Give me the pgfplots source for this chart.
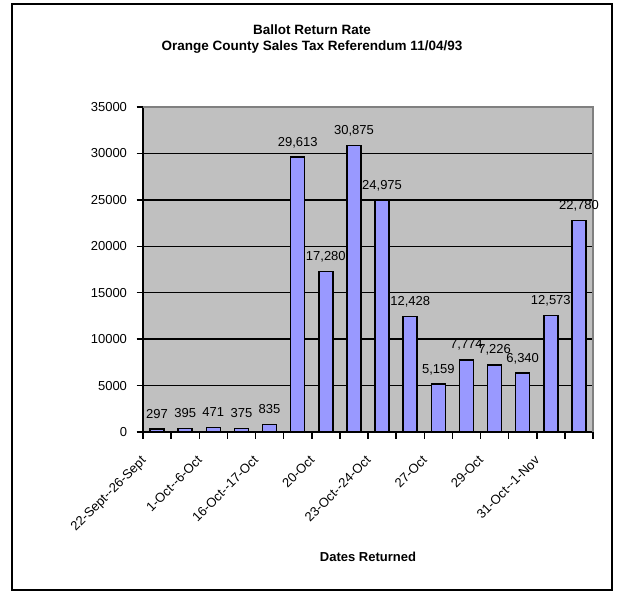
\documentclass[border=0pt]{standalone}
\usepackage{pgfplots}
\usepackage{pgfplotstable}
\pgfplotsset{compat=1.18}
\usepackage{fontspec}
\setmainfont{Liberation Sans}

\definecolor{barblue}{RGB}{153,153,255}
\definecolor{plotgray}{RGB}{192,192,192}
\definecolor{edgegray}{RGB}{128,128,128}

% ballots returned per reporting period
\pgfplotstableread{
idx value
0 297
1 395
2 471
3 375
4 835
5 29613
6 17280
7 30875
8 24975
9 12428
10 5159
11 7774
12 7226
13 6340
14 12573
15 22780
}\ballots

\newcommand{\chartfont}{\fontsize{13bp}{15bp}\selectfont}

\begin{document}
\begin{tikzpicture}
% page frame
\path (0,0) rectangle (618bp,-592bp);
\draw[line width=2.5bp] (12bp,-4bp) rectangle (612bp,-590bp);
\node[font=\bfseries\fontsize{13.5bp}{16bp}\selectfont, align=center] at (312bp,-39.5bp)
  {Ballot Return Rate\\Orange County Sales Tax Referendum 11/04/93};
\begin{axis}[
  at={(143bp,-432bp)}, anchor=south west,
  scale only axis, width=450bp, height=325bp,
  xmin=-0.5, xmax=15.5, ymin=0, ymax=35000,
  axis background/.style={fill=plotgray},
  axis x line*=bottom, axis y line*=left,
  axis line style={-, black, line width=2bp},
  tick align=outside,
  major tick length=6.5bp,
  tick style={black, line width=1.5bp},
  ytick={0,5000,...,35000},
  scaled y ticks=false,
  yticklabel={\chartfont\pgfmathprintnumber[fixed,precision=0,1000 sep={},assume math mode=true]{\tick}},
  ymajorgrids,
  grid style={black, line width=1.3bp},
  xtick={-0.5,0.5,...,15.5},
  xticklabels={},
  extra x ticks={0,2,...,14},
  extra x tick labels={22-Sept-{}-26-Sept,1-Oct-{}-6-Oct,16-Oct-{}-17-Oct,20-Oct,23-Oct-{}-24-Oct,27-Oct,29-Oct,31-Oct-{}-1-Nov},
  extra x tick style={major tick length=0pt, grid=none,
    tick label style={rotate=45, anchor=north east, inner sep=0pt, xshift=-28bp, yshift=-4bp}},
  /pgf/number format/.cd, 1000 sep={}, assume math mode=true,
  /pgfplots/.cd,
  tick label style={font=\chartfont},
  yticklabel style={font=\chartfont, xshift=-6bp},
  xlabel={\bfseries Dates Returned},
  xlabel style={font=\chartfont, at={(axis description cs:0.5,0)}, anchor=center, yshift=-125bp},
  ybar, bar width=14bp,
  point meta=y,
  nodes near coords={\pgfmathprintnumber[fixed,precision=0,1000 sep={,},assume math mode=true]{\pgfplotspointmeta}},
  every node near coord/.append style={font=\chartfont, anchor=base, inner sep=0pt, yshift=11bp, black},
  clip=false,
]
\addplot[fill=barblue, draw=black, line width=1.5bp] table[x=idx, y=value] {\ballots};
% lighter top and right edges of the plot area
\draw[edgegray, line width=2bp] (axis cs:-0.5,35000) -- (axis cs:15.5,35000) -- (axis cs:15.5,0);
\end{axis}
\end{tikzpicture}
\end{document}
